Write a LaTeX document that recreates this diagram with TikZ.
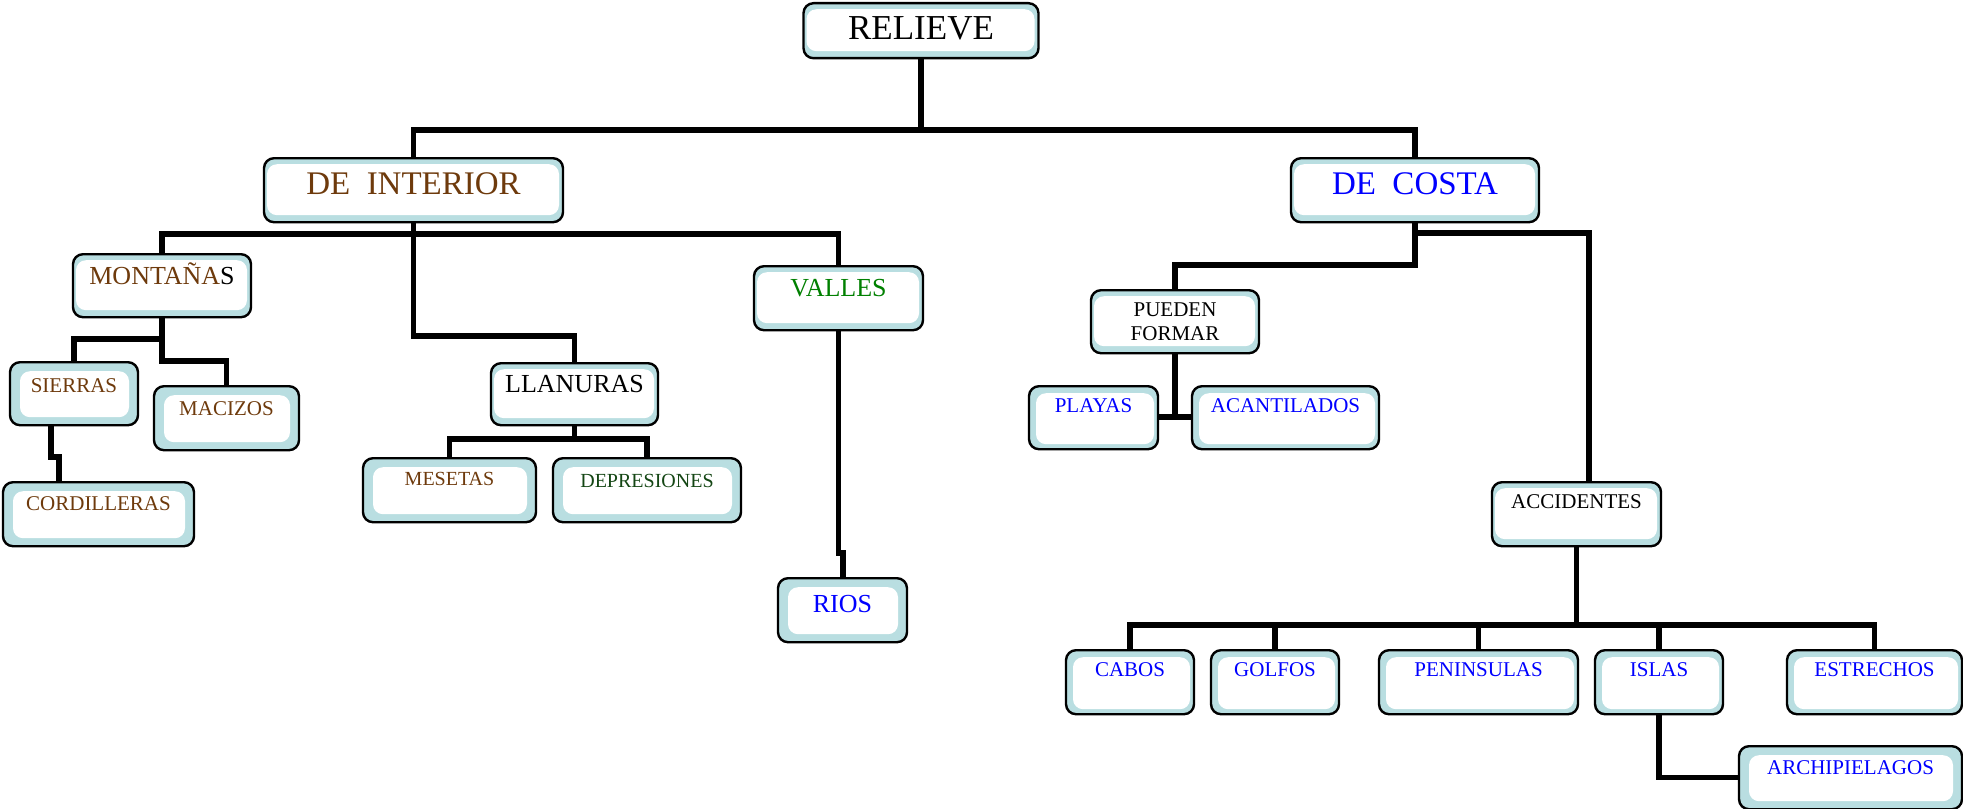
\documentclass[tikz,border=0pt]{standalone}
\usepackage{fontspec}
\setmainfont{Liberation Serif}
\usepackage{xcolor}

\definecolor{boxblue}{RGB}{185,222,225}
\definecolor{tierra}{RGB}{110,58,12}
\definecolor{verde}{RGB}{0,128,0}
\definecolor{verdeosc}{RGB}{20,70,20}
\definecolor{azul}{RGB}{0,0,255}

\begin{document}
\begin{tikzpicture}[
    x=0.5pt, y=-0.5pt,
    box/.style={rectangle, draw, line width=1.2pt, rounded corners=5pt, fill=boxblue, anchor=north, inner xsep=2pt, inner ysep=0pt},
    band/.style n args={4}{path picture={\fill[white] ([xshift=#1, yshift=-#3]path picture bounding box.north west) rectangle ([xshift=-#2, yshift=#4]path picture bounding box.south east);}},
    boxa/.style={box, band={1.5pt}{2pt}{3pt}{3.5pt}},
    boxb/.style={box, band={3.5pt}{2pt}{3.5pt}{2.5pt}},
    boxc/.style={box, band={5pt}{4.5pt}{4.5pt}{4pt}},
    fbig/.style={font=\fontsize{16.5}{19}\selectfont},
    fmed/.style={font=\fontsize{13}{15}\selectfont},
    fsmall/.style={font=\fontsize{10.5}{12}\selectfont},
    ftiny/.style={font=\fontsize{10}{12}\selectfont},
    link/.style={draw, line width=2.6pt},
]
\useasboundingbox (0,0) rectangle (1963,808);

% Top
\node[boxa, font=\fontsize{17.5}{20}\selectfont, minimum width=117.5pt, text height=18pt, text depth=9.5pt] (relieve) at (921,2) {RELIEVE};
\node[boxa, fbig, minimum width=149.5pt, text height=18pt, text depth=14pt, text=tierra] (interior) at (413.5,157) {DE\ \ INTERIOR};
\node[boxa, fbig, minimum width=124pt, text height=18pt, text depth=14pt, text=azul] (costa) at (1415,157) {DE\ \ COSTA};

% De interior
\node[boxa, fmed, minimum width=89pt, text height=15pt, text depth=16.5pt, text=tierra] (montanas) at (162,253) {MONTAÑA\textcolor{black}{S}};
\node[boxc, fsmall, minimum width=64pt, text height=15pt, text depth=16.5pt, text=tierra] (sierras) at (74,361) {SIERRAS};
\node[boxc, fsmall, minimum width=72.5pt, text height=14.5pt, text depth=17.5pt, text=tierra] (macizos) at (226.5,385) {MACIZOS};
\node[boxc, fsmall, minimum width=95.5pt, text height=14pt, text depth=18pt, text=tierra] (cordilleras) at (98.5,481) {CORDILLERAS};
\node[boxa, fmed, minimum width=83.5pt, text height=14.5pt, text depth=16.5pt] (llanuras) at (574.5,362) {LLANURAS};
\node[boxc, ftiny, minimum width=86.5pt, text height=13.5pt, text depth=18.5pt, text=tierra] (mesetas) at (449.5,457) {MESETAS};
\node[boxc, ftiny, minimum width=94pt, text height=14.5pt, text depth=17.5pt, text=verdeosc] (depresiones) at (647,457) {DEPRESIONES};
\node[boxa, fmed, minimum width=84.5pt, text height=15pt, text depth=17pt, text=verde] (valles) at (838.5,265) {VALLES};
\node[boxc, fmed, minimum width=64.5pt, text height=17pt, text depth=15pt, text=azul] (rios) at (842.5,577) {RIOS};

% De costa
\node[boxa, fsmall, align=center, minimum width=84pt, minimum height=31.5pt] (pueden) at (1175,289) {PUEDEN\\FORMAR};
\node[boxb, fsmall, minimum width=64.5pt, text height=13pt, text depth=18.5pt, text=azul] (playas) at (1093.5,385) {PLAYAS};
\node[boxb, fsmall, minimum width=93.5pt, text height=13pt, text depth=18.5pt, text=azul] (acantilados) at (1285.5,385) {ACANTILADOS};
\node[boxa, fsmall, minimum width=84.5pt, text height=13pt, text depth=19pt] (accidentes) at (1576.5,481) {ACCIDENTES};
\node[boxb, fsmall, minimum width=64pt, text height=13pt, text depth=19pt, text=azul] (cabos) at (1130,649) {CABOS};
\node[boxb, fsmall, minimum width=64pt, text height=13pt, text depth=19pt, text=azul] (golfos) at (1275,649) {GOLFOS};
\node[boxb, fsmall, minimum width=99.5pt, text height=13pt, text depth=19pt, text=azul] (peninsulas) at (1478.5,649) {PENINSULAS};
\node[boxb, fsmall, minimum width=64pt, text height=13pt, text depth=19pt, text=azul] (islas) at (1659,649) {ISLAS};
\node[boxb, fsmall, minimum width=87.5pt, text height=13pt, text depth=19pt, text=azul] (estrechos) at (1874.5,649) {ESTRECHOS};
\node[boxc, fsmall, minimum width=111.5pt, text height=14pt, text depth=17.5pt, text=azul] (archipielagos) at (1850.5,745) {ARCHIPIELAGOS};

% Bus points
\coordinate (busR) at (921,130);
\coordinate (busI) at (413.5,234);
\coordinate (busL) at (413.5,336);
\coordinate (busM) at (162,339);
\coordinate (busM2) at (162,361);
\coordinate (sc1) at (51,457);
\coordinate (sc2) at (59,457);
\coordinate (busLl) at (574.5,439);
\coordinate (vr1) at (838.5,553);
\coordinate (vr2) at (843,553);
\coordinate (busC) at (1415,233);
\coordinate (busP) at (1415,265);
\coordinate (pf) at (1175,417);
\coordinate (busA) at (1576.5,625);

% Connectors
\draw[link] (relieve.south) -- (busR);
\draw[link] (interior.north) |- (busR) -| (costa.north);
\draw[link] (montanas.north) |- (busI) -| (valles.north);
\draw[link] (interior.south) -- (busL) -| (llanuras.north);
\draw[link] (sierras.north) |- (busM);
\draw[link] (montanas.south) -- (busM2) -| (macizos.north);
\draw[link] (sierras.south -| sc1) -- (sc1) -- (sc2) -- (cordilleras.north -| sc2);
\draw[link] (llanuras.south) -- (busLl);
\draw[link] (mesetas.north) |- (busLl) -| (depresiones.north);
\draw[link] (valles.south) -- (vr1) -- (vr2) -- (rios.north -| vr2);
\draw[link] (costa.south) -- (busP) -| (pueden.north);
\draw[link] (busC) -| ([xshift=6.25pt]accidentes.north);
\draw[link] (pueden.south) -- (pf);
\draw[link] (playas.east |- pf) -- (acantilados.west |- pf);
\draw[link] (accidentes.south) -- (busA);
\draw[link] (cabos.north) |- (busA) -| (estrechos.north);
\draw[link] (golfos.north) -- (golfos.north |- busA);
\draw[link] (peninsulas.north) -- (peninsulas.north |- busA);
\draw[link] (islas.north) -- (islas.north |- busA);
\draw[link] (islas.south) |- (archipielagos.west);

\end{tikzpicture}
\end{document}
